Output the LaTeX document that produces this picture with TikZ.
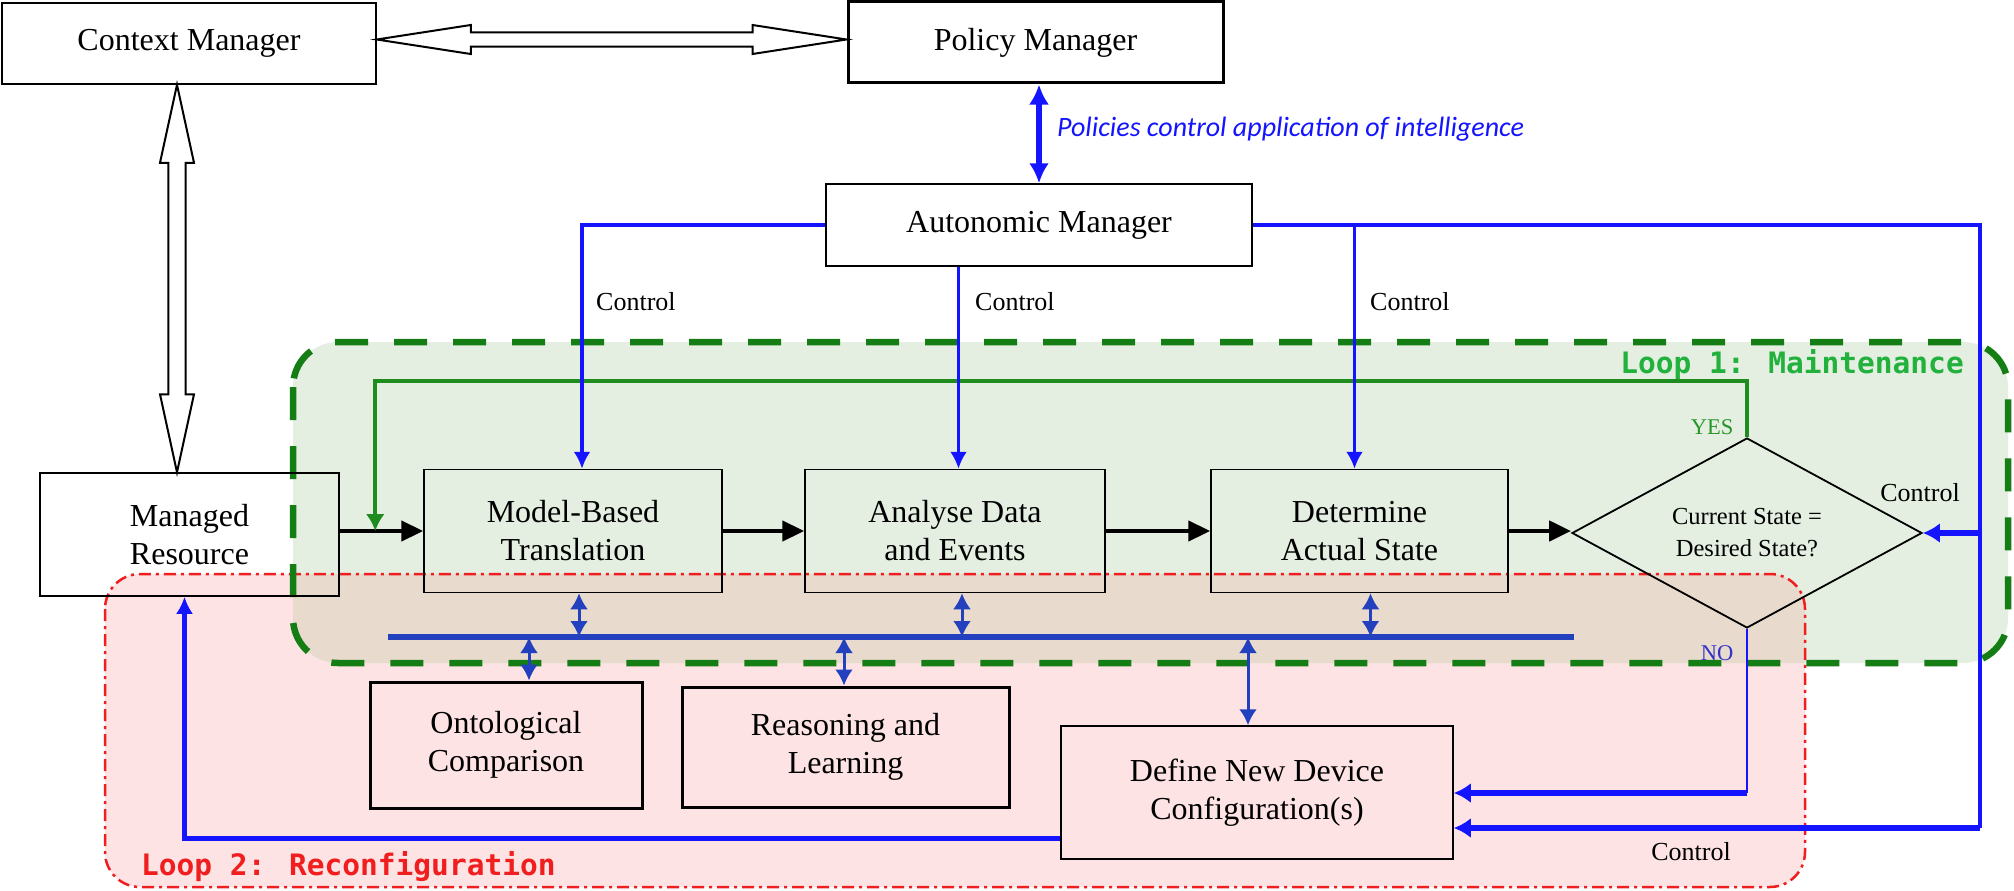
\documentclass[tikz,border=0pt]{standalone}
\usepackage{fontspec}
\setmainfont{Liberation Serif}
\newfontfamily\loopfont{DejaVu Sans Mono}
\newfontfamily\polfont{Carlito}
\usetikzlibrary{shapes.geometric,arrows.meta,calc}
\definecolor{ctrlblue}{RGB}{20,20,255}
\definecolor{busblue}{RGB}{35,65,190}
\definecolor{loopgreen}{RGB}{20,125,20}
\definecolor{fbgreen}{RGB}{30,140,30}
\definecolor{greenfill}{RGB}{228,239,226}
\definecolor{redfill}{RGB}{253,227,227}
\definecolor{ovlfill}{RGB}{232,218,205}
\definecolor{loopred}{RGB}{240,30,30}
\definecolor{lgtext}{RGB}{34,177,60}
\definecolor{nocol}{RGB}{50,50,200}
\definecolor{yescol}{RGB}{40,150,40}
\begin{document}
\begin{tikzpicture}[x=1pt,y=-1pt,
  box/.style={draw, line width=1.5pt, inner sep=0pt, align=center, font=\fontsize{32}{38}\selectfont},
  thickbox/.style={box, line width=3pt},
  hollow/.style={draw, line width=2pt, fill=white, line join=miter},
  flow/.style={line width=4.5pt, -{Triangle[length=22pt,width=20pt]}},
  fbline/.style={draw=fbgreen, line width=4pt, -{Latex[length=17pt,width=19pt]}},
  ctrl/.style={draw=ctrlblue, line width=3.5pt},
  ctrlA/.style={ctrl, -{Latex[length=17pt,width=17pt]}},
  ctrlthick/.style={draw=ctrlblue, line width=6pt, -{Latex[length=17pt,width=20pt]}},
  nothin/.style={draw=ctrlblue, line width=2.5pt},
  bus/.style={draw=busblue, line width=6.5pt},
  busarrow/.style={draw=busblue, line width=3pt, {Latex[length=16pt,width=18pt]}-{Latex[length=16pt,width=18pt]}},
  ctl/.style={inner sep=0pt, font=\fontsize{26}{30}\selectfont},
  yn/.style={inner sep=0pt, font=\fontsize{22.5}{26}\selectfont},
  loopg/.style={draw=loopgreen, line width=6.5pt, dash pattern=on 33pt off 26pt, rounded corners=45pt},
  loopr/.style={draw=loopred, line width=2.5pt, dash pattern=on 12pt off 5pt on 3pt off 5pt, rounded corners=35pt}
]
\useasboundingbox (0,0) rectangle (2014,891);
\fill[white] (0,0) rectangle (2014,891);

% loop regions
\fill[redfill, rounded corners=35pt] (105,574) rectangle (1805,887);
\fill[greenfill, rounded corners=45pt] (293,342) rectangle (2008,663);
\begin{scope}
  \clip[rounded corners=45pt] (293,342) rectangle (2008,663);
  \fill[ovlfill, rounded corners=35pt] (105,574) rectangle (1805,887);
\end{scope}
\draw[loopr] (105,574) rectangle (1805,887);
\draw[loopg] (293,342) rectangle (2008,663);

% nodes
\node[box, minimum width=374pt, minimum height=81pt] (cm) at (189,43.5) {Context Manager};
\node[thickbox, minimum width=375pt, minimum height=81pt] (pm) at (1035.5,42.5) {Policy Manager};
\node[box, minimum width=426pt, minimum height=82pt] (am) at (1039,225) {Autonomic Manager};
\node[box, minimum width=299pt, minimum height=123pt] (mr) at (189.5,534.5) {Managed\\Resource};
\node[box, minimum width=298pt, minimum height=123pt] (mbt) at (573,531) {Model-Based\\Translation};
\node[box, minimum width=300pt, minimum height=123pt] (ade) at (955,531) {Analyse Data\\and Events};
\node[box, minimum width=297pt, minimum height=123pt] (das) at (1359.5,531) {Determine\\Actual State};
\node[draw, diamond, aspect=1.84, minimum width=350pt, minimum height=190pt, inner sep=0pt,
      line width=1.8pt, align=center, font=\fontsize{24.5}{32}\selectfont] (dec) at (1747,533) {Current State =\\Desired State?};
\node[thickbox, minimum width=272pt, minimum height=126pt] (oc) at (506,745) {Ontological\\Comparison};
\node[thickbox, minimum width=327pt, minimum height=120pt] (rl) at (845.5,747) {Reasoning and\\Learning};
\node[box, minimum width=392pt, minimum height=133pt] (dndc) at (1257,792.5) {Define New Device\\Configuration(s)};

% hollow arrows
\coordinate (ha) at ($(cm.east)+(0,-4)$);
\coordinate (hb) at (ha -| pm.west);
\draw[hollow] (ha) -- ++(94,-14.5) -- ++(0,7.3) -- ($(hb)+(-94,-7.2)$) -- ++(0,-7.3) -- (hb)
  -- ++(-94,14.5) -- ++(0,-7.3) -- ($(ha)+(94,7.2)$) -- ++(0,7.3) -- cycle;
\coordinate (va) at ($(cm.south)+(-12,0)$);
\coordinate (vb) at (va |- mr.north);
\draw[hollow] (va) -- ++(17,78) -- ++(-8.4,0) -- ($(vb)+(8.6,-78)$) -- ++(8.4,0) -- (vb)
  -- ++(-17,-78) -- ++(8.4,0) -- ($(va)+(-8.6,78)$) -- ++(-8.4,0) -- cycle;

% policy arrow
\draw[draw=ctrlblue, line width=6pt, {Latex[length=20pt,width=20pt]}-{Latex[length=20pt,width=20pt]}] (am.north |- pm.south) -- (am.north);
\node[anchor=base west, inner sep=0pt, text=ctrlblue, font=\polfont\itshape\fontsize{28}{32}\selectfont] (pol) at (1057,136) {Policies control application of intelligence};

% black flow
\draw[flow] (mr.east |- mbt.west) -- (mbt.west);
\draw[flow] (mbt.east) -- (ade.west);
\draw[flow] (ade.east) -- (das.west);
\draw[flow] (das.east) -- (das.east -| dec.west);

% green feedback
\coordinate (fb) at ($(mbt.west)+(-48,0)$);
\coordinate (fbtop) at ($(fb)+(0,-150)$);
\draw[fbline] (dec.north) |- (fbtop) -- (fb);
\node[yn, text=yescol] (yes) at (1712,427) {YES};

% control lines
\coordinate (t1) at ($(mbt.north)+(9,0)$);
\draw[ctrlA] (am.west) -| (t1);
\coordinate (t2) at ($(ade.north)+(3.5,0)$);
\draw[ctrlA] (t2 |- am.south) -- (t2);
\coordinate (t3) at ($(das.north)+(-5,0)$);
\draw[ctrlA] (t3 |- am.east) -- (t3);
\coordinate (rail) at (1980,225);
\coordinate (t5) at ($(dndc.east)+(0,35.5)$);
\draw[ctrl] (am.east) -- (rail) -- (rail |- t5);
\draw[ctrlthick] (rail |- dec.east) -- (dec.east);
\draw[ctrlthick] (rail |- t5) -- (t5);
\coordinate (t4) at ($(dndc.east)+(0,0.5)$);
\draw[nothin] (dec.south) -- (dec.south |- t4);
\draw[ctrlthick] (dec.south |- t4) -- (t4);
\node[yn, text=nocol] (no) at (1717,653) {NO};
\coordinate (t6) at ($(dndc.west)+(0,46)$);
\coordinate (t7) at ($(mr.south)+(-5,0)$);
\draw[ctrlA, line width=4.5pt] (t6) -| (t7);

\node[ctl, anchor=west] (lc1) at (596,302) {Control};
\node[ctl, anchor=west] (lc2) at (975,302) {Control};
\node[ctl, anchor=west] (lc3) at (1370,302) {Control};
\node[ctl] (lc4) at (1920,493) {Control};
\node[ctl] (lc5) at (1691,852) {Control};

% bus
\coordinate (busL) at (388,637);
\coordinate (busR) at (1574,637);
\draw[bus] (busL) -- (busR);
\coordinate (b1) at ($(mbt.south)+(6,0)$);
\draw[busarrow] (b1) -- (b1 |- busL);
\coordinate (b2) at ($(ade.south)+(7,0)$);
\draw[busarrow] (b2) -- (b2 |- busL);
\coordinate (b3) at ($(das.south)+(11,0)$);
\draw[busarrow] (b3) -- (b3 |- busL);
\coordinate (b4) at ($(oc.north)+(23,0)$);
\draw[busarrow] (b4 |- busL) -- (b4);
\coordinate (b5) at ($(rl.north)+(-1.5,0)$);
\draw[busarrow] (b5 |- busL) -- (b5);
\coordinate (b6) at ($(dndc.north)+(-9,0)$);
\draw[busarrow] (b6 |- busL) -- (b6);

% loop labels
\node[anchor=base east, inner sep=0pt, text=lgtext, font=\loopfont\bfseries\fontsize{29.5}{32}\selectfont] (l1) at (1964,373) {Loop 1: Maintenance};
\node[anchor=base west, inner sep=0pt, text=loopred, font=\loopfont\bfseries\fontsize{29.5}{32}\selectfont] (l2) at (141,875) {Loop 2: Reconfiguration};
\end{tikzpicture}
\end{document}
